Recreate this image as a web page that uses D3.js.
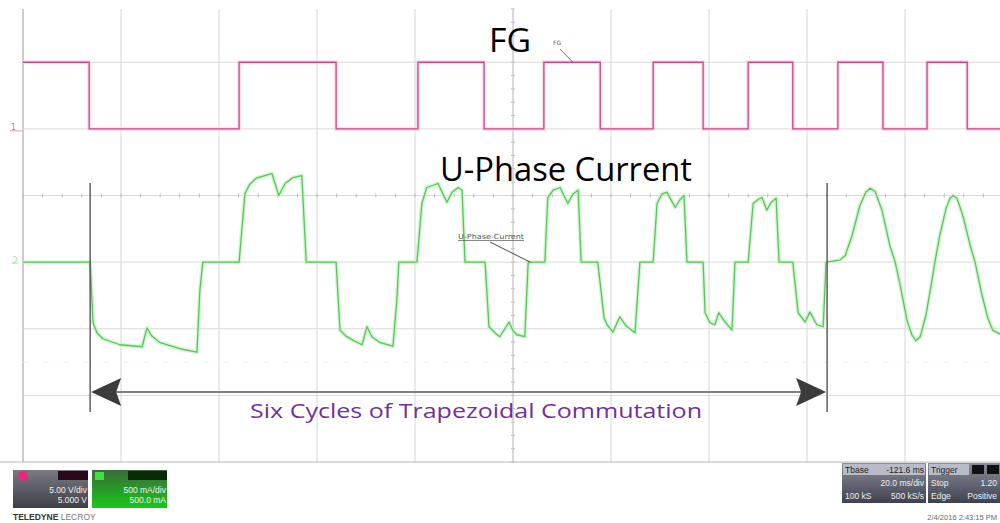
<!DOCTYPE html>
<html><head><meta charset="utf-8">
<script src="https://cdn.jsdelivr.net/npm/d3@7"></script>
<style>html,body{margin:0;padding:0;background:#fff;overflow:hidden}</style>
</head><body>
<svg id="chart" width="1000" height="523"></svg>
<script>
// ---- data (time in ms, 20 ms/div; FG in V; current in mA, 500 mA/div) ----
const fgTimes = [0, 13.5, 44.1, 63.9, 80.6, 94.1, 106.3, 117.8, 128.6, 138.8, 148.0, 157.1, 166.3, 175.5, 184.5, 192.7, 199.5];
const fgVolts = [5, 0, 5, 0, 5, 0, 5, 0, 5, 0, 5, 0, 5, 0, 5, 0, 0];

const curTimes = [0,13.7,14.3,15.1,16.3,19.8,24.3,25.3,26.3,28.0,32.0,35.5,36.1,36.7,
 44.1,45.3,46.3,47.6,50.8,52.2,53.5,55.1,56.9,57.8,
 63.9,64.7,65.9,67.3,69.2,70.2,71.2,72.9,75.5,76.3,76.7,
 80.4,81.4,82.4,84.7,86.5,87.6,88.8,89.6,90.2,
 94.3,95.1,96.3,97.3,99.2,100.0,100.8,102.4,103.1,
 106.5,107.1,108.2,109.6,111.2,112.2,113.3,113.9,
 117.3,118.6,119.2,120.4,121.8,123.1,124.9,125.9,
 128.6,129.4,130.4,131.4,133.1,134.1,134.9,135.5,
 138.8,139.2,140.2,141.2,142.0,143.3,144.7,145.3,
 148.0,149.0,150.0,150.8,151.8,152.7,153.7,154.3,
 157.1,158.2,159.6,160.6,162.0,163.3,163.9,
 166.7,167.8,169.2,170.8,172.0,172.9,173.9,175.3,176.9,178.0,179.0,180.4,181.4,182.2,183.1,184.3,185.5,
 186.1,187.1,188.4,189.2,189.8,190.6,191.8,193.3,194.3,195.7,196.9,197.9,199.4];
const curMilliamps = [0,0,-455,-530,-575,-620,-635,-495,-555,-605,-650,-675,-210,0,
 0,515,585,630,665,500,590,635,650,0,
 0,-510,-555,-585,-620,-485,-560,-605,-630,-285,0,
 0,440,560,590,450,525,560,540,0,
 0,-485,-530,-560,-450,-515,-545,-560,0,
 0,485,540,560,440,510,540,0,
 0,-420,-470,-525,-410,-480,-530,0,
 0,440,510,525,410,470,500,0,
 0,-380,-455,-470,-380,-450,-510,0,
 0,440,470,485,390,450,480,0,
 0,-380,-450,-375,-470,-485,0,
 15,50,200,425,525,555,530,390,125,0,-170,-435,-545,-590,-560,-395,-135,
 0,200,405,480,500,480,350,125,0,-245,-420,-510,-540];

const markerTimes = [13.5, 163.9];
const titleFG = "FG";
const titleCurrent = "U-Phase Current";
const annotation = "Six Cycles of Trapezoidal Commutation";
const ch1Info = ["5.00 V/div", "5.000 V"];
const ch2Info = ["500 mA/div", "500.0 mA"];
const timebaseRows = [["Tbase", "-121.6 ms"], ["", "20.0 ms/div"], ["100 kS", "500 kS/s"]];
const triggerRows = [["Trigger", ""], ["Stop", "1.20"], ["Edge", "Positive"]];
const dateText = "2/4/2016 2:43:15 PM";

// ---- scales ----
const svg = d3.select("#chart");
const x = d3.scaleLinear().domain([0, 200]).range([23, 1003]);
const yDiv = d3.scaleLinear().domain([-4, 4]).range([462, -71]);
const yFG = v => yDiv(1 + v / 5);
const yCur = mA => yDiv(-1 + mA / 500);

// ---- grid ----
const grid = svg.append("g");
const vTicks = d3.range(0, 201, 20);
grid.selectAll("line.v").data(vTicks).join("line")
  .attr("x1", d => x(d)).attr("x2", d => x(d))
  .attr("y1", 9).attr("y2", yDiv(-4))
  .attr("stroke", d => d === 0 ? "#9a9a9a" : "#d6d6d6").attr("stroke-width", 1);
const hDivs = d3.range(-3, 4);
grid.selectAll("line.h").data(hDivs).join("line")
  .attr("x1", x(0)).attr("x2", 1000)
  .attr("y1", d => yDiv(d)).attr("y2", d => yDiv(d))
  .attr("stroke", "#dadada").attr("stroke-width", 1);
grid.selectAll("line.hh").data([3.5, -2.5]).join("line")
  .attr("x1", x(0)).attr("x2", 1000)
  .attr("y1", d => yDiv(d)).attr("y2", d => yDiv(d))
  .attr("stroke", "#efefef").attr("stroke-width", 1).attr("stroke-dasharray", "6,14");
grid.append("line").attr("x1", 0).attr("x2", 1000).attr("y1", yDiv(-4)).attr("y2", yDiv(-4))
  .attr("stroke", "#b8b8b8");
const minorT = d3.range(0, 200.1, 4);
grid.selectAll("line.tx").data(minorT).join("line")
  .attr("x1", d => x(d)).attr("x2", d => x(d))
  .attr("y1", yDiv(0) - 2).attr("y2", yDiv(0) + 2).attr("stroke", "#bbb");
const minorY = d3.range(-4, 4.01, 0.2);
grid.selectAll("line.ty").data(minorY).join("line")
  .attr("x1", x(100) - 2).attr("x2", x(100) + 2)
  .attr("y1", d => yDiv(d)).attr("y2", d => yDiv(d)).attr("stroke", "#bbb");
grid.append("line").attr("x1", x(100)).attr("x2", x(100)).attr("y1", 9).attr("y2", yDiv(-4))
  .attr("stroke", "#c8c8c8");

// ---- traces ----
const fgData = fgTimes.map((t, i) => [t, fgVolts[i]]);
const fgLine = d3.line().x(d => x(d[0])).y(d => yFG(d[1])).curve(d3.curveStepAfter);
svg.append("path").attr("d", fgLine(fgData)).attr("fill", "none")
  .attr("stroke", "#fbd0e6").attr("stroke-width", 4).attr("opacity", 0.7);
svg.append("path").attr("d", fgLine(fgData)).attr("fill", "none")
  .attr("stroke", "#c8468a").attr("stroke-width", 1.3);

const curData = curTimes.map((t, i) => [t, curMilliamps[i]]);
const curLine = d3.line().x(d => x(d[0])).y(d => yCur(d[1]));
svg.append("path").attr("d", curLine(curData)).attr("fill", "none")
  .attr("stroke", "#c8f4c8").attr("stroke-width", 4).attr("opacity", 0.8).attr("stroke-linejoin", "round");
svg.append("path").attr("d", curLine(curData)).attr("fill", "none")
  .attr("stroke", "#5cc45c").attr("stroke-width", 1.3).attr("stroke-linejoin", "round");

// channel markers
svg.append("text").attr("x", 11).attr("y", yFG(0) + 1).attr("font-size", 8)
  .attr("font-family", "DejaVu Sans").attr("fill", "#e06aa0").text("1");
svg.append("line").attr("x1", 10).attr("x2", 22).attr("y1", yFG(0) + 2).attr("y2", yFG(0) + 2)
  .attr("stroke", "#e890b8").attr("stroke-width", 1);
svg.append("path").attr("d", `M13,${yCur(0) - 6} q4,0 4,3 q0,3 -5,4 l6,0`).attr("fill", "none")
  .attr("stroke", "#a8e0a8").attr("stroke-width", 1);

// small scope labels
svg.append("text").attr("x", 553).attr("y", 45).attr("font-size", 6)
  .attr("font-family", "DejaVu Sans").attr("fill", "#666").text("FG");
svg.append("line").attr("x1", 560).attr("y1", 49).attr("x2", x(80.6) + 155).attr("y2", yFG(5))
  .attr("stroke", "#555").attr("stroke-width", 0.8);
svg.append("text").attr("x", 458).attr("y", 239).attr("font-size", 7)
  .attr("font-family", "DejaVu Sans").attr("fill", "#555")
  .attr("text-decoration", "underline").attr("textLength", 66).attr("lengthAdjust", "spacingAndGlyphs")
  .text("U-Phase-Current");
svg.append("line").attr("x1", 490).attr("y1", 242).attr("x2", x(103.1) + 2).attr("y2", yCur(0))
  .attr("stroke", "#333").attr("stroke-width", 0.9);

// ---- titles ----
svg.append("text").attr("x", 489).attr("y", 52).attr("font-family", "Open Sans, Liberation Sans")
  .attr("font-size", 33).attr("fill", "#000").attr("textLength", 42).attr("lengthAdjust", "spacingAndGlyphs")
  .text(titleFG);
svg.append("text").attr("x", 440).attr("y", 181).attr("font-family", "Open Sans, Liberation Sans")
  .attr("font-size", 33).attr("fill", "#000").attr("textLength", 252).attr("lengthAdjust", "spacingAndGlyphs")
  .text(titleCurrent);

// ---- annotation ----
const ann = svg.append("g");
markerTimes.forEach(t => {
  ann.append("line").attr("x1", x(t) + 1).attr("x2", x(t) + 1).attr("y1", 183).attr("y2", 412)
    .attr("stroke", "#555").attr("stroke-width", 1.4);
});
const ax1 = x(markerTimes[0]) + 2, ax2 = x(markerTimes[1]);
ann.append("line").attr("x1", ax1 + 20).attr("x2", ax2 - 20).attr("y1", 392).attr("y2", 392)
  .attr("stroke", "#808080").attr("stroke-width", 2);
ann.append("path").attr("d", `M${ax1},392 L${ax1 + 30},378 L${ax1 + 25},392 L${ax1 + 30},406 Z`).attr("fill", "#3c3c3c");
ann.append("path").attr("d", `M${ax2},392 L${ax2 - 30},378 L${ax2 - 25},392 L${ax2 - 30},406 Z`).attr("fill", "#3c3c3c");
ann.append("text").attr("x", 250).attr("y", 418).attr("font-family", "Open Sans, Liberation Sans")
  .attr("font-size", 20).attr("fill", "#7030a0").attr("textLength", 452).attr("lengthAdjust", "spacingAndGlyphs")
  .text(annotation);

// ---- bottom info boxes ----
const defs = svg.append("defs");
const g1 = defs.append("linearGradient").attr("id", "gGray").attr("x1", 0).attr("y1", 0).attr("x2", 0).attr("y2", 1);
g1.append("stop").attr("offset", 0).attr("stop-color", "#7a7a82");
g1.append("stop").attr("offset", 1).attr("stop-color", "#3e3e46");
const g2 = defs.append("linearGradient").attr("id", "gGreen").attr("x1", 0).attr("y1", 0).attr("x2", 0).attr("y2", 1);
g2.append("stop").attr("offset", 0).attr("stop-color", "#3a6a3a");
g2.append("stop").attr("offset", 1).attr("stop-color", "#18c818");
const g3 = defs.append("linearGradient").attr("id", "gBlue").attr("x1", 0).attr("y1", 0).attr("x2", 0).attr("y2", 1);
g3.append("stop").attr("offset", 0).attr("stop-color", "#8a8c98");
g3.append("stop").attr("offset", 1).attr("stop-color", "#3e4250");

const info = svg.append("g").attr("font-family", "Liberation Sans, Arial");
info.append("rect").attr("x", 13).attr("y", 470).attr("width", 75).attr("height", 38).attr("fill", "url(#gGray)");
info.append("circle").attr("cx", 23).attr("cy", 476).attr("r", 5).attr("fill", "#e8287a");
info.append("rect").attr("x", 58).attr("y", 471).attr("width", 30).attr("height", 9).attr("fill", "#2a0a1a");
info.selectAll("text.c1").data(ch1Info).join("text")
  .attr("x", 87).attr("y", (d, i) => 493 + i * 10).attr("text-anchor", "end")
  .attr("font-size", 8.5).attr("fill", "#f0f0f0").text(d => d);
info.append("rect").attr("x", 92).attr("y", 470).attr("width", 75).attr("height", 38).attr("fill", "url(#gGreen)");
info.append("rect").attr("x", 95).attr("y", 472).attr("width", 9).attr("height", 8).attr("fill", "#40e040");
info.append("rect").attr("x", 128).attr("y", 471).attr("width", 39).attr("height", 9).attr("fill", "#0a2a0a");
info.selectAll("text.c2").data(ch2Info).join("text")
  .attr("x", 166).attr("y", (d, i) => 493 + i * 10).attr("text-anchor", "end")
  .attr("font-size", 8.5).attr("fill", "#f0f0f0").text(d => d);
const brand = info.append("text").attr("x", 13).attr("y", 520).attr("font-size", 8.5).attr("fill", "#333");
brand.append("tspan").attr("font-weight", "bold").text("TELEDYNE ");
brand.append("tspan").attr("fill", "#777").text("LECROY");

info.append("rect").attr("x", 842).attr("y", 463).attr("width", 84).attr("height", 40).attr("fill", "url(#gBlue)");
info.append("rect").attr("x", 843).attr("y", 464).attr("width", 82).attr("height", 11).attr("fill", "#b8bcc8");
info.append("rect").attr("x", 928).attr("y", 463).attr("width", 72).attr("height", 40).attr("fill", "url(#gBlue)");
info.append("rect").attr("x", 929).attr("y", 464).attr("width", 40).attr("height", 11).attr("fill", "#b8bcc8");
info.append("rect").attr("x", 972).attr("y", 465).attr("width", 12).attr("height", 9).attr("fill", "#111");
info.append("rect").attr("x", 987).attr("y", 465).attr("width", 12).attr("height", 9).attr("fill", "#111");
timebaseRows.forEach((r, i) => {
  const col = i === 0 ? "#222" : "#f0f0f0";
  info.append("text").attr("x", 845).attr("y", 473 + i * 13).attr("font-size", 8.5).attr("fill", col).text(r[0]);
  info.append("text").attr("x", 924).attr("y", 473 + i * 13).attr("text-anchor", "end").attr("font-size", 8.5).attr("fill", col).text(r[1]);
});
triggerRows.forEach((r, i) => {
  const col = i === 0 ? "#222" : "#f0f0f0";
  info.append("text").attr("x", 931).attr("y", 473 + i * 13).attr("font-size", 8.5).attr("fill", col).text(r[0]);
  info.append("text").attr("x", 997).attr("y", 473 + i * 13).attr("text-anchor", "end").attr("font-size", 8.5).attr("fill", col).text(r[1]);
});
info.append("text").attr("x", 997).attr("y", 520).attr("text-anchor", "end").attr("font-size", 7.5)
  .attr("fill", "#666").text(dateText);
</script>
</body></html>
